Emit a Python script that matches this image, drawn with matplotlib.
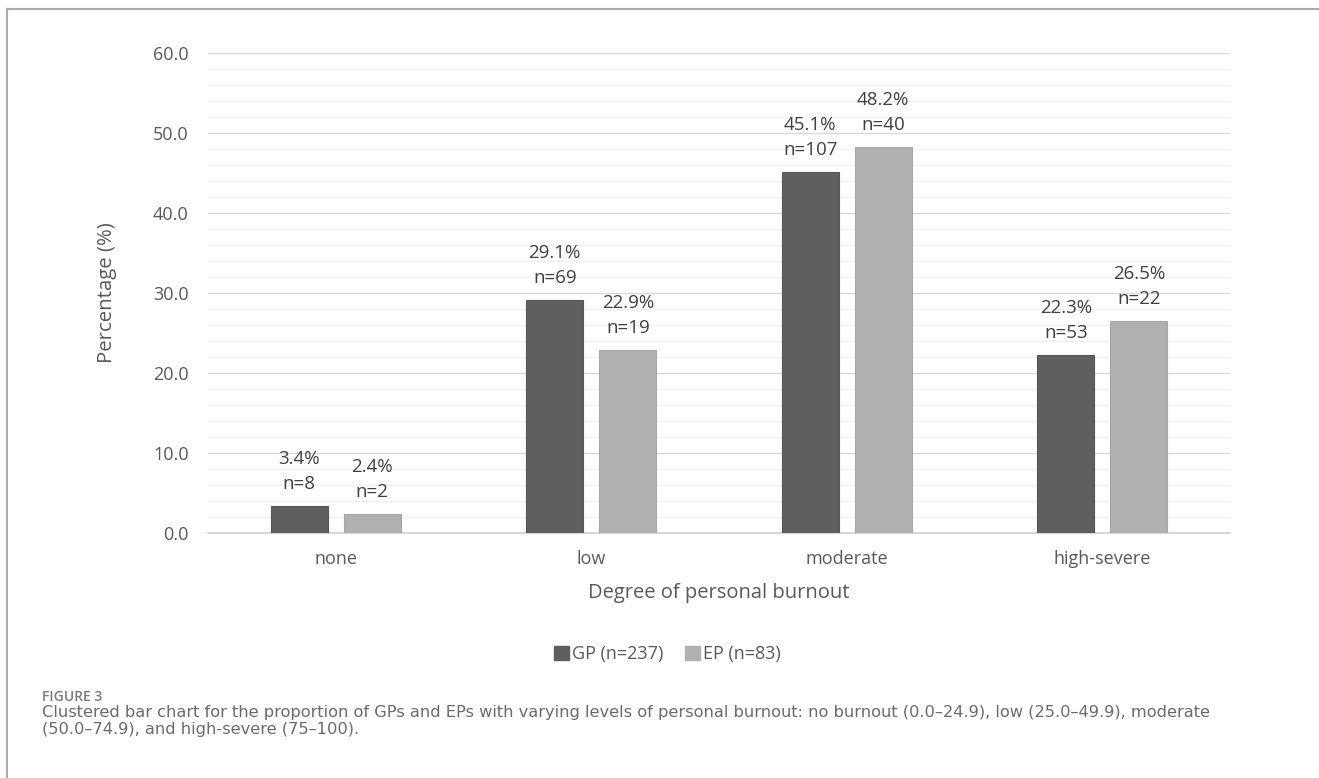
import numpy as np
import matplotlib.pyplot as plt
from matplotlib.lines import Line2D
from matplotlib.patches import Patch

# Burnout categories and group results
categories = ["none", "low", "moderate", "high-severe"]
gp_pct = [3.4, 29.1, 45.1, 22.3]
gp_n = [8, 69, 107, 53]
ep_pct = [2.4, 22.9, 48.2, 26.5]
ep_n = [2, 19, 40, 22]
series_names = ["GP (n=237)", "EP (n=83)"]

W, H = 1319, 778
plt.rcParams["font.family"] = ["Open Sans", "DejaVu Sans"]

fig = plt.figure(figsize=(W / 100, H / 100), dpi=100)
ax = fig.add_axes([208 / W, 1 - 533 / H, (1230 - 208) / W, (533 - 53) / H])

x = np.arange(len(categories))
width = 0.223
offset = 0.143
dark = "#5f5f5f"
light = "#b0b0b0"

ax.bar(x - offset, gp_pct, width, color=dark, edgecolor="#555555", linewidth=0.8, zorder=3)
ax.bar(x + offset, ep_pct, width, color=light, edgecolor="#a6a6a6", linewidth=0.8, zorder=3)

# two-line value labels above every bar
for xs, pct, ns in [(x - offset, gp_pct, gp_n), (x + offset, ep_pct, ep_n)]:
    for xi, p, n in zip(xs, pct, ns):
        ax.annotate(f"{p}%", (xi, p), xytext=(0, 47), textcoords="offset pixels",
                    ha="center", va="center", fontsize=13.5, color="#404040")
        ax.annotate(f"n={n}", (xi, p), xytext=(0, 22), textcoords="offset pixels",
                    ha="center", va="center", fontsize=13.5, color="#404040")

ax.set_xlim(-0.5, 3.5)
ax.set_ylim(0, 60)
ax.set_yticks(np.arange(0, 61, 10))
ax.set_yticklabels([f"{v:.1f}" for v in np.arange(0, 61, 10)])
ax.set_yticks(np.arange(0, 61, 2), minor=True)
ax.set_xticks(x)
ax.set_xticklabels(categories)
ax.tick_params(axis="both", which="both", length=0, labelsize=13, labelcolor="#595959")
ax.tick_params(axis="y", pad=14)
ax.tick_params(axis="x", pad=12)

ax.grid(axis="y", which="minor", color="#f0f0f0", linewidth=1, zorder=0)
ax.grid(axis="y", which="major", color="#d9d9d9", linewidth=1, zorder=1)
for side in ["top", "right", "left"]:
    ax.spines[side].set_visible(False)
ax.spines["bottom"].set_color("#d0d0d0")
ax.spines["bottom"].set_linewidth(1.2)

ax.set_ylabel("Percentage (%)", fontsize=14.7, color="#595959", labelpad=22)
ax.yaxis.set_label_coords(-(208 - 117) / (1230 - 208), 0.5)
ax.set_xlabel("Degree of personal burnout", fontsize=14.5, color="#595959", labelpad=11)

handles = [Patch(facecolor=dark, edgecolor=dark), Patch(facecolor=light, edgecolor=light)]
fig.legend(handles, series_names, loc="center", bbox_to_anchor=(667 / W, 1 - 654 / H),
           ncol=2, frameon=False, fontsize=13, handlelength=0.85, handleheight=0.85,
           handletextpad=0.15, columnspacing=1.2, labelcolor="#595959")

# frame lines and caption
fig.add_artist(Line2D([7 / W, 1], [1 - 9 / H, 1 - 9 / H], color="#aaaaaa", linewidth=1.5))
fig.add_artist(Line2D([7 / W, 7 / W], [0, 1 - 9 / H], color="#aaaaaa", linewidth=1.5))
fig.text(42 / W, 1 - 697 / H, "FIGURE 3", fontsize=10, color="#7a7a7a", va="center",
         fontweight="semibold")
caption_lines = [
    "Clustered bar chart for the proportion of GPs and EPs with varying levels of personal burnout: "
    "no burnout (0.0\u201324.9), low (25.0\u201349.9), moderate",
    "(50.0\u201374.9), and high-severe (75\u2013100).",
]
for i, line in enumerate(caption_lines):
    fig.text(42 / W, 1 - (713 + 16.5 * i) / H, line, fontsize=11.7, color="#6b6b6b",
             va="center", family="DejaVu Sans")

fig.savefig("out.png", dpi=100)
